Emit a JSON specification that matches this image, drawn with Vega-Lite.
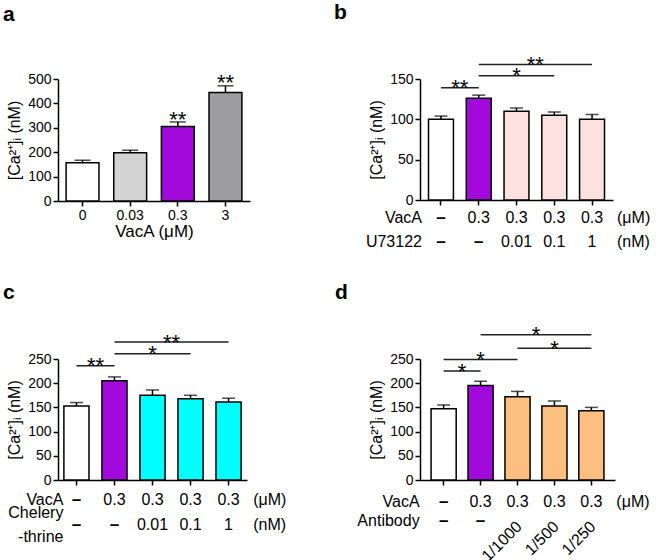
{
  "$schema": "https://vega.github.io/schema/vega-lite/v6.json",
  "background": "white",
  "padding": {"left": 3, "top": 2, "right": 0, "bottom": 0},
  "bounds": "flush",
  "align": "all",
  "columns": 2,
  "spacing": {"row": 158, "column": 167},
  "resolve": {"scale": {"x": "independent", "y": "independent", "fill": "independent"}},
  "config": {
    "view": {"stroke": null},
    "font": "Liberation Sans",
    "title": {"font": "Liberation Sans", "fontSize": 21, "fontWeight": "bold", "anchor": "start", "frame": "group", "baseline": "alphabetic", "color": "black"},
    "axis": {"domainColor": "black", "domainWidth": 1.5, "tickColor": "black", "tickWidth": 1.5, "tickSize": 5, "labelColor": "black", "labelFont": "Liberation Sans", "labelFontSize": 14, "labelPadding": 2, "labelOverlap": false, "titleFont": "Liberation Sans", "titleColor": "black", "titleFontWeight": "normal", "titleFontSize": 16, "titlePadding": 5, "grid": false},
    "text": {"font": "Liberation Sans", "fontSize": 16, "color": "black"}
  },
  "datasets": {
    "a": [
      {"dose": "0", "mean": 157, "hi": 167, "sig": ""},
      {"dose": "0.03", "mean": 198, "hi": 208, "sig": ""},
      {"dose": "0.3", "mean": 305, "hi": 324, "sig": "**"},
      {"dose": "3", "mean": 445, "hi": 472, "sig": "**"}
    ],
    "b": [
      {"cond": "Control", "group": "Control", "vaca": "–", "inh": "–", "mean": 100, "hi": 104},
      {"cond": "VacA", "group": "VacA", "vaca": "0.3", "inh": "–", "mean": 126, "hi": 130},
      {"cond": "VacA+U0.01", "group": "VacA+U73122", "vaca": "0.3", "inh": "0.01", "mean": 110, "hi": 114},
      {"cond": "VacA+U0.1", "group": "VacA+U73122", "vaca": "0.3", "inh": "0.1", "mean": 105, "hi": 109},
      {"cond": "VacA+U1", "group": "VacA+U73122", "vaca": "0.3", "inh": "1", "mean": 100, "hi": 106}
    ],
    "bb": [
      {"from": "Control", "to": "VacA", "level": 139, "sig": "**"},
      {"from": "VacA", "to": "VacA+U0.1", "level": 154, "sig": "*"},
      {"from": "VacA", "to": "VacA+U1", "level": 168, "sig": "**"}
    ],
    "c": [
      {"cond": "Control", "group": "Control", "vaca": "–", "inh": "–", "mean": 153, "hi": 160},
      {"cond": "VacA", "group": "VacA", "vaca": "0.3", "inh": "–", "mean": 205, "hi": 213},
      {"cond": "VacA+C0.01", "group": "VacA+Chelerythrine", "vaca": "0.3", "inh": "0.01", "mean": 175, "hi": 186},
      {"cond": "VacA+C0.1", "group": "VacA+Chelerythrine", "vaca": "0.3", "inh": "0.1", "mean": 168, "hi": 175},
      {"cond": "VacA+C1", "group": "VacA+Chelerythrine", "vaca": "0.3", "inh": "1", "mean": 161, "hi": 169}
    ],
    "cb": [
      {"from": "Control", "to": "VacA", "level": 236, "sig": "**"},
      {"from": "VacA", "to": "VacA+C0.1", "level": 261, "sig": "*"},
      {"from": "VacA", "to": "VacA+C1", "level": 285, "sig": "**"}
    ],
    "d": [
      {"cond": "Control", "group": "Control", "vaca": "–", "ab": "–", "mean": 147, "hi": 155},
      {"cond": "VacA", "group": "VacA", "vaca": "0.3", "ab": "–", "mean": 195, "hi": 204},
      {"cond": "Ab 1/1000", "group": "VacA+Antibody", "vaca": "0.3", "ab": "1/1000", "mean": 172, "hi": 183},
      {"cond": "Ab 1/500", "group": "VacA+Antibody", "vaca": "0.3", "ab": "1/500", "mean": 153, "hi": 163},
      {"cond": "Ab 1/250", "group": "VacA+Antibody", "vaca": "0.3", "ab": "1/250", "mean": 143, "hi": 150}
    ],
    "db": [
      {"from": "Control", "to": "VacA", "level": 225, "sig": "*"},
      {"from": "Control", "to": "Ab 1/1000", "level": 249, "sig": "*"},
      {"from": "Ab 1/1000", "to": "Ab 1/250", "level": 272, "sig": "*"},
      {"from": "VacA", "to": "Ab 1/250", "level": 300, "sig": "*"}
    ]
  },
  "concat": [
    {
      "width": 192, "height": 122,
      "title": {"text": "a", "dx": -55, "offset": 47},
      "data": {"name": "a"},
      "encoding": {
        "x": {"field": "dose", "type": "nominal", "scale": {"domain": ["0", "0.03", "0.3", "3"], "paddingInner": 0.31, "paddingOuter": 0.17}, "axis": {"title": "VacA (μM)", "labelAngle": 0, "labelFontSize": 14, "labelPadding": 2, "titleFontSize": 17, "titlePadding": 1}}
      },
      "layer": [
        {"mark": {"type": "bar", "stroke": "black", "strokeWidth": 1.5},
         "encoding": {
           "y": {"field": "mean", "type": "quantitative", "scale": {"domain": [0, 500], "nice": false}, "axis": {"values": [0, 100, 200, 300, 400, 500], "tickCount": 10, "labelOverlap": false, "title": "[Ca²⁺]ᵢ (nM)"}},
           "fill": {"field": "dose", "type": "nominal", "scale": {"domain": ["0", "0.03", "0.3", "3"], "range": ["#ffffff", "#d3d3d3", "#a20adc", "#9d9da2"]}, "legend": null}}},
        {"mark": {"type": "rule", "strokeWidth": 1.5, "color": "black"},
         "encoding": {"y": {"field": "mean", "type": "quantitative", "scale": {"domain": [0, 500], "nice": false}}, "y2": {"field": "hi"}}},
        {"mark": {"type": "tick", "orient": "horizontal", "size": 16, "thickness": 1.5, "color": "black"},
         "encoding": {"y": {"field": "hi", "type": "quantitative", "scale": {"domain": [0, 500], "nice": false}}}},
        {"mark": {"type": "text", "fontSize": 22, "baseline": "alphabetic", "dy": 4.6},
         "encoding": {"y": {"field": "hi", "type": "quantitative", "scale": {"domain": [0, 500], "nice": false}}, "text": {"field": "sig"}}}
      ]
    },
    {
      "width": 193, "height": 121,
      "title": {"text": "b", "dx": -86, "offset": 31},
      "data": {"name": "b"},
      "encoding": {
        "x": {"field": "cond", "type": "nominal", "scale": {"domain": ["Control", "VacA", "VacA+U0.01", "VacA+U0.1", "VacA+U1"], "paddingInner": 0.34, "paddingOuter": 0.225}, "axis": {"labels": false, "title": null}}
      },
      "layer": [
        {"mark": {"type": "bar", "stroke": "black", "strokeWidth": 1.5},
         "encoding": {
           "y": {"field": "mean", "type": "quantitative", "scale": {"domain": [0, 150], "nice": false}, "axis": {"values": [0, 50, 100, 150], "tickCount": 10, "labelOverlap": false, "title": "[Ca²⁺]ᵢ (nM)"}},
           "fill": {"field": "group", "type": "nominal", "scale": {"domain": ["Control", "VacA", "VacA+U73122"], "range": ["#ffffff", "#a20adc", "#fde1e1"]}, "legend": null}}},
        {"mark": {"type": "rule", "strokeWidth": 1.5, "color": "black"},
         "encoding": {"y": {"field": "mean", "type": "quantitative", "scale": {"domain": [0, 150], "nice": false}}, "y2": {"field": "hi"}}},
        {"mark": {"type": "tick", "orient": "horizontal", "size": 13, "thickness": 1.5, "color": "black"},
         "encoding": {"y": {"field": "hi", "type": "quantitative", "scale": {"domain": [0, 150], "nice": false}}}},
        {"transform": [{"filter": "datum.vaca != '–'"}],
         "mark": {"type": "text", "baseline": "middle", "dy": 18},
         "encoding": {"y": {"datum": 0, "type": "quantitative", "scale": {"domain": [0, 150], "nice": false}}, "text": {"field": "vaca"}}},
        {"transform": [{"filter": "datum.vaca == '–'"}],
         "mark": {"type": "text", "baseline": "middle", "dy": 18, "fontSize": 17, "fontWeight": "bold"},
         "encoding": {"y": {"datum": 0, "type": "quantitative", "scale": {"domain": [0, 150], "nice": false}}, "text": {"field": "vaca"}}},
        {"transform": [{"filter": "datum.inh != '–'"}],
         "mark": {"type": "text", "baseline": "middle", "dy": 42},
         "encoding": {"y": {"datum": 0, "type": "quantitative", "scale": {"domain": [0, 150], "nice": false}}, "text": {"field": "inh"}}},
        {"transform": [{"filter": "datum.inh == '–'"}],
         "mark": {"type": "text", "baseline": "middle", "dy": 42, "fontSize": 17, "fontWeight": "bold"},
         "encoding": {"y": {"datum": 0, "type": "quantitative", "scale": {"domain": [0, 150], "nice": false}}, "text": {"field": "inh"}}},
        {"data": {"values": [{"t": "VacA"}]},
         "mark": {"type": "text", "align": "right", "baseline": "middle", "dx": -19, "dy": 18},
         "encoding": {"x": {"datum": "Control"}, "y": {"datum": 0, "type": "quantitative", "scale": {"domain": [0, 150], "nice": false}}, "text": {"field": "t"}}},
        {"data": {"values": [{"t": "U73122"}]},
         "mark": {"type": "text", "align": "right", "baseline": "middle", "dx": -19, "dy": 42},
         "encoding": {"x": {"datum": "Control"}, "y": {"datum": 0, "type": "quantitative", "scale": {"domain": [0, 150], "nice": false}}, "text": {"field": "t"}}},
        {"data": {"values": [{"t": "(μM)"}]},
         "mark": {"type": "text", "align": "left", "baseline": "middle", "dx": 25, "dy": 18},
         "encoding": {"x": {"datum": "VacA+U1"}, "y": {"datum": 0, "type": "quantitative", "scale": {"domain": [0, 150], "nice": false}}, "text": {"field": "t"}}},
        {"data": {"values": [{"t": "(nM)"}]},
         "mark": {"type": "text", "align": "left", "baseline": "middle", "dx": 25, "dy": 42},
         "encoding": {"x": {"datum": "VacA+U1"}, "y": {"datum": 0, "type": "quantitative", "scale": {"domain": [0, 150], "nice": false}}, "text": {"field": "t"}}},
        {"data": {"name": "bb"},
         "mark": {"type": "rule", "strokeWidth": 1.5, "color": "#222222"},
         "encoding": {"x": {"field": "from", "type": "nominal"}, "x2": {"field": "to"}, "y": {"field": "level", "type": "quantitative", "scale": {"domain": [0, 150], "nice": false}}}},
        {"data": {"name": "bb"}, "transform": [{"filter": "datum.to == 'VacA'"}],
         "mark": {"type": "text", "fontSize": 22, "baseline": "alphabetic", "dx": 18.9, "dy": 7.6},
         "encoding": {"x": {"field": "from", "type": "nominal"}, "y": {"field": "level", "type": "quantitative", "scale": {"domain": [0, 150], "nice": false}}, "text": {"field": "sig"}}},
        {"data": {"name": "bb"}, "transform": [{"filter": "datum.to == 'VacA+U0.1'"}],
         "mark": {"type": "text", "fontSize": 22, "baseline": "alphabetic", "dx": 37.75, "dy": 7.6},
         "encoding": {"x": {"field": "from", "type": "nominal"}, "y": {"field": "level", "type": "quantitative", "scale": {"domain": [0, 150], "nice": false}}, "text": {"field": "sig"}}},
        {"data": {"name": "bb"}, "transform": [{"filter": "datum.to == 'VacA+U1'"}],
         "mark": {"type": "text", "fontSize": 22, "baseline": "alphabetic", "dx": 56.6, "dy": 7.6},
         "encoding": {"x": {"field": "from", "type": "nominal"}, "y": {"field": "level", "type": "quantitative", "scale": {"domain": [0, 150], "nice": false}}, "text": {"field": "sig"}}}
      ]
    },
    {
      "width": 189, "height": 121,
      "title": {"text": "c", "dx": -55, "offset": 28.3},
      "data": {"name": "c"},
      "encoding": {
        "x": {"field": "cond", "type": "nominal", "scale": {"domain": ["Control", "VacA", "VacA+C0.01", "VacA+C0.1", "VacA+C1"], "paddingInner": 0.34, "paddingOuter": 0.155}, "axis": {"labels": false, "title": null}}
      },
      "layer": [
        {"mark": {"type": "bar", "stroke": "black", "strokeWidth": 1.5},
         "encoding": {
           "y": {"field": "mean", "type": "quantitative", "scale": {"domain": [0, 250], "nice": false}, "axis": {"values": [0, 50, 100, 150, 200, 250], "tickCount": 10, "labelOverlap": false, "title": "[Ca²⁺]ᵢ (nM)"}},
           "fill": {"field": "group", "type": "nominal", "scale": {"domain": ["Control", "VacA", "VacA+Chelerythrine"], "range": ["#ffffff", "#a20adc", "#00ffff"]}, "legend": null}}},
        {"mark": {"type": "rule", "strokeWidth": 1.5, "color": "black"},
         "encoding": {"y": {"field": "mean", "type": "quantitative", "scale": {"domain": [0, 250], "nice": false}}, "y2": {"field": "hi"}}},
        {"mark": {"type": "tick", "orient": "horizontal", "size": 13, "thickness": 1.5, "color": "black"},
         "encoding": {"y": {"field": "hi", "type": "quantitative", "scale": {"domain": [0, 250], "nice": false}}}},
        {"transform": [{"filter": "datum.vaca != '–'"}],
         "mark": {"type": "text", "baseline": "middle", "dy": 20},
         "encoding": {"y": {"datum": 0, "type": "quantitative", "scale": {"domain": [0, 250], "nice": false}}, "text": {"field": "vaca"}}},
        {"transform": [{"filter": "datum.vaca == '–'"}],
         "mark": {"type": "text", "baseline": "middle", "dy": 20, "fontSize": 17, "fontWeight": "bold"},
         "encoding": {"y": {"datum": 0, "type": "quantitative", "scale": {"domain": [0, 250], "nice": false}}, "text": {"field": "vaca"}}},
        {"transform": [{"filter": "datum.inh != '–'"}],
         "mark": {"type": "text", "baseline": "middle", "dy": 45},
         "encoding": {"y": {"datum": 0, "type": "quantitative", "scale": {"domain": [0, 250], "nice": false}}, "text": {"field": "inh"}}},
        {"transform": [{"filter": "datum.inh == '–'"}],
         "mark": {"type": "text", "baseline": "middle", "dy": 45, "fontSize": 17, "fontWeight": "bold"},
         "encoding": {"y": {"datum": 0, "type": "quantitative", "scale": {"domain": [0, 250], "nice": false}}, "text": {"field": "inh"}}},
        {"data": {"values": [{"t": "VacA"}]},
         "mark": {"type": "text", "align": "right", "baseline": "middle", "dx": -13, "dy": 20},
         "encoding": {"x": {"datum": "Control"}, "y": {"datum": 0, "type": "quantitative", "scale": {"domain": [0, 250], "nice": false}}, "text": {"field": "t"}}},
        {"data": {"values": [{"t": "Chelery"}]},
         "mark": {"type": "text", "align": "right", "baseline": "middle", "dx": -13, "dy": 33},
         "encoding": {"x": {"datum": "Control"}, "y": {"datum": 0, "type": "quantitative", "scale": {"domain": [0, 250], "nice": false}}, "text": {"field": "t"}}},
        {"data": {"values": [{"t": "-thrine"}]},
         "mark": {"type": "text", "align": "right", "baseline": "middle", "dx": -13, "dy": 57},
         "encoding": {"x": {"datum": "Control"}, "y": {"datum": 0, "type": "quantitative", "scale": {"domain": [0, 250], "nice": false}}, "text": {"field": "t"}}},
        {"data": {"values": [{"t": "(μM)"}]},
         "mark": {"type": "text", "align": "left", "baseline": "middle", "dx": 24.6, "dy": 20},
         "encoding": {"x": {"datum": "VacA+C1"}, "y": {"datum": 0, "type": "quantitative", "scale": {"domain": [0, 250], "nice": false}}, "text": {"field": "t"}}},
        {"data": {"values": [{"t": "(nM)"}]},
         "mark": {"type": "text", "align": "left", "baseline": "middle", "dx": 24.6, "dy": 45},
         "encoding": {"x": {"datum": "VacA+C1"}, "y": {"datum": 0, "type": "quantitative", "scale": {"domain": [0, 250], "nice": false}}, "text": {"field": "t"}}},
        {"data": {"name": "cb"},
         "mark": {"type": "rule", "strokeWidth": 1.5, "color": "#222222"},
         "encoding": {"x": {"field": "from", "type": "nominal"}, "x2": {"field": "to"}, "y": {"field": "level", "type": "quantitative", "scale": {"domain": [0, 250], "nice": false}}}},
        {"data": {"name": "cb"}, "transform": [{"filter": "datum.to == 'VacA'"}],
         "mark": {"type": "text", "fontSize": 22, "baseline": "alphabetic", "dx": 19, "dy": 7.6},
         "encoding": {"x": {"field": "from", "type": "nominal"}, "y": {"field": "level", "type": "quantitative", "scale": {"domain": [0, 250], "nice": false}}, "text": {"field": "sig"}}},
        {"data": {"name": "cb"}, "transform": [{"filter": "datum.to == 'VacA+C0.1'"}],
         "mark": {"type": "text", "fontSize": 22, "baseline": "alphabetic", "dx": 38, "dy": 7.6},
         "encoding": {"x": {"field": "from", "type": "nominal"}, "y": {"field": "level", "type": "quantitative", "scale": {"domain": [0, 250], "nice": false}}, "text": {"field": "sig"}}},
        {"data": {"name": "cb"}, "transform": [{"filter": "datum.to == 'VacA+C1'"}],
         "mark": {"type": "text", "fontSize": 22, "baseline": "alphabetic", "dx": 57, "dy": 7.6},
         "encoding": {"x": {"field": "from", "type": "nominal"}, "y": {"field": "level", "type": "quantitative", "scale": {"domain": [0, 250], "nice": false}}, "text": {"field": "sig"}}}
      ]
    },
    {
      "width": 195, "height": 121,
      "title": {"text": "d", "dx": -85, "offset": 21.5},
      "data": {"name": "d"},
      "encoding": {
        "x": {"field": "cond", "type": "nominal", "scale": {"domain": ["Control", "VacA", "Ab 1/1000", "Ab 1/500", "Ab 1/250"], "paddingInner": 0.32, "paddingOuter": 0.3}, "axis": {"labels": false, "title": null}}
      },
      "layer": [
        {"mark": {"type": "bar", "stroke": "black", "strokeWidth": 1.5},
         "encoding": {
           "y": {"field": "mean", "type": "quantitative", "scale": {"domain": [0, 250], "nice": false}, "axis": {"values": [0, 50, 100, 150, 200, 250], "tickCount": 10, "labelOverlap": false, "title": "[Ca²⁺]ᵢ (nM)"}},
           "fill": {"field": "group", "type": "nominal", "scale": {"domain": ["Control", "VacA", "VacA+Antibody"], "range": ["#ffffff", "#a20adc", "#fdbf80"]}, "legend": null}}},
        {"mark": {"type": "rule", "strokeWidth": 1.5, "color": "black"},
         "encoding": {"y": {"field": "mean", "type": "quantitative", "scale": {"domain": [0, 250], "nice": false}}, "y2": {"field": "hi"}}},
        {"mark": {"type": "tick", "orient": "horizontal", "size": 13, "thickness": 1.5, "color": "black"},
         "encoding": {"y": {"field": "hi", "type": "quantitative", "scale": {"domain": [0, 250], "nice": false}}}},
        {"transform": [{"filter": "datum.vaca != '–'"}],
         "mark": {"type": "text", "baseline": "middle", "dy": 22},
         "encoding": {"y": {"datum": 0, "type": "quantitative", "scale": {"domain": [0, 250], "nice": false}}, "text": {"field": "vaca"}}},
        {"transform": [{"filter": "datum.vaca == '–'"}],
         "mark": {"type": "text", "baseline": "middle", "dy": 22, "fontSize": 17, "fontWeight": "bold"},
         "encoding": {"y": {"datum": 0, "type": "quantitative", "scale": {"domain": [0, 250], "nice": false}}, "text": {"field": "vaca"}}},
        {"transform": [{"filter": "datum.ab == '–'"}],
         "mark": {"type": "text", "baseline": "middle", "dy": 41, "fontSize": 17, "fontWeight": "bold"},
         "encoding": {"y": {"datum": 0, "type": "quantitative", "scale": {"domain": [0, 250], "nice": false}}, "text": {"field": "ab"}}},
        {"transform": [{"filter": "datum.ab != '–'"}],
         "mark": {"type": "text", "align": "right", "baseline": "middle", "angle": 315, "dx": -30, "dy": 32.5},
         "encoding": {"y": {"datum": 0, "type": "quantitative", "scale": {"domain": [0, 250], "nice": false}}, "text": {"field": "ab"}}},
        {"data": {"values": [{"t": "VacA"}]},
         "mark": {"type": "text", "align": "right", "baseline": "middle", "dx": -24, "dy": 22},
         "encoding": {"x": {"datum": "Control"}, "y": {"datum": 0, "type": "quantitative", "scale": {"domain": [0, 250], "nice": false}}, "text": {"field": "t"}}},
        {"data": {"values": [{"t": "Antibody"}]},
         "mark": {"type": "text", "align": "right", "baseline": "middle", "dx": -24, "dy": 41},
         "encoding": {"x": {"datum": "Control"}, "y": {"datum": 0, "type": "quantitative", "scale": {"domain": [0, 250], "nice": false}}, "text": {"field": "t"}}},
        {"data": {"values": [{"t": "(μM)"}]},
         "mark": {"type": "text", "align": "left", "baseline": "middle", "dx": 25, "dy": 22},
         "encoding": {"x": {"datum": "Ab 1/250"}, "y": {"datum": 0, "type": "quantitative", "scale": {"domain": [0, 250], "nice": false}}, "text": {"field": "t"}}},
        {"data": {"name": "db"},
         "mark": {"type": "rule", "strokeWidth": 1.5, "color": "#222222"},
         "encoding": {"x": {"field": "from", "type": "nominal"}, "x2": {"field": "to"}, "y": {"field": "level", "type": "quantitative", "scale": {"domain": [0, 250], "nice": false}}}},
        {"data": {"name": "db"}, "transform": [{"filter": "datum.to == 'VacA'"}],
         "mark": {"type": "text", "fontSize": 22, "baseline": "alphabetic", "dx": 18.5, "dy": 7.6},
         "encoding": {"x": {"field": "from", "type": "nominal"}, "y": {"field": "level", "type": "quantitative", "scale": {"domain": [0, 250], "nice": false}}, "text": {"field": "sig"}}},
        {"data": {"name": "db"}, "transform": [{"filter": "(datum.from == 'Control' && datum.to == 'Ab 1/1000') || datum.from == 'Ab 1/1000'"}],
         "mark": {"type": "text", "fontSize": 22, "baseline": "alphabetic", "dx": 37, "dy": 7.6},
         "encoding": {"x": {"field": "from", "type": "nominal"}, "y": {"field": "level", "type": "quantitative", "scale": {"domain": [0, 250], "nice": false}}, "text": {"field": "sig"}}},
        {"data": {"name": "db"}, "transform": [{"filter": "datum.from == 'VacA'"}],
         "mark": {"type": "text", "fontSize": 22, "baseline": "alphabetic", "dx": 55.5, "dy": 7.6},
         "encoding": {"x": {"field": "from", "type": "nominal"}, "y": {"field": "level", "type": "quantitative", "scale": {"domain": [0, 250], "nice": false}}, "text": {"field": "sig"}}}
      ]
    }
  ]
}
